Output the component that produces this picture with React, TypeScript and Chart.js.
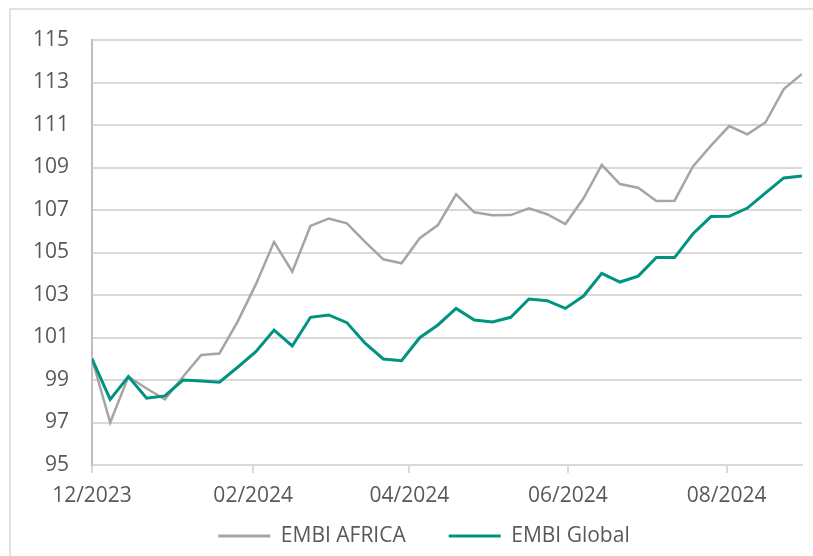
import React, { useEffect, useRef } from "react";
import { Chart, registerables } from "chart.js";

Chart.register(...registerables);

const dates = [
  "2023-12-01", "2023-12-08", "2023-12-15", "2023-12-22", "2023-12-29",
  "2024-01-05", "2024-01-12", "2024-01-19", "2024-01-26",
  "2024-02-02", "2024-02-09", "2024-02-16", "2024-02-23",
  "2024-03-01", "2024-03-08", "2024-03-15", "2024-03-22", "2024-03-29",
  "2024-04-05", "2024-04-12", "2024-04-19", "2024-04-26",
  "2024-05-03", "2024-05-10", "2024-05-17", "2024-05-24", "2024-05-31",
  "2024-06-07", "2024-06-14", "2024-06-21", "2024-06-28",
  "2024-07-05", "2024-07-12", "2024-07-19", "2024-07-26",
  "2024-08-02", "2024-08-09", "2024-08-16", "2024-08-23", "2024-08-30",
];

const embiAfrica = [
  100, 97.0, 99.16, 98.6, 98.09, 99.15, 100.18, 100.25, 101.75, 103.5,
  105.5, 104.1, 106.25, 106.6, 106.37, 105.5, 104.68, 104.49, 105.67, 106.29,
  107.74, 106.89, 106.75, 106.76, 107.08, 106.8, 106.34, 107.55, 109.12, 108.22,
  108.05, 107.42, 107.44, 109.04, 110.03, 110.95, 110.56, 111.13, 112.69, 113.4,
];

const embiGlobal = [
  100, 98.09, 99.16, 98.14, 98.25, 99.0, 98.95, 98.9, 99.6, 100.33,
  101.35, 100.6, 101.95, 102.06, 101.7, 100.73, 99.99, 99.91, 100.99, 101.59,
  102.37, 101.82, 101.73, 101.95, 102.81, 102.73, 102.37, 102.95, 104.02, 103.61,
  103.89, 104.77, 104.76, 105.87, 106.69, 106.7, 107.09, 107.81, 108.51, 108.6,
];

const tickDates = ["2023-12-01", "2024-02-01", "2024-04-01", "2024-06-01", "2024-08-01"];
const tickLabels = ["12/2023", "02/2024", "04/2024", "06/2024", "08/2024"];

const seriesNames = ["EMBI AFRICA", "EMBI Global"];

const DAY = 86400000;
const t0 = Date.parse(dates[0] + "T00:00:00Z");
const toDay = (d: string) => Math.round((Date.parse(d + "T00:00:00Z") - t0) / DAY);

const GRAY = "#A5A5A5";
const TEAL = "#00937F";
const GRID = "#D9D9D9";
const TEXT = "#595959";

const frame = {
  id: "frame",
  beforeDraw(chart: any) {
    const ctx = chart.ctx;
    ctx.save();
    ctx.fillStyle = "#FFFFFF";
    ctx.fillRect(0, 0, chart.width, chart.height);
    ctx.strokeStyle = GRID;
    ctx.lineWidth = 1.5;
    ctx.beginPath();
    ctx.moveTo(10, chart.height);
    ctx.lineTo(10, 9);
    ctx.lineTo(chart.width, 9);
    ctx.stroke();
    ctx.restore();
  },
};

// place the legend at the reference position after layout
const legendNudge = {
  id: "legendNudge",
  afterLayout(chart: any) {
    const l = chart.legend;
    if (!l) return;
    const dx = 23;
    const dy = -22.5;
    l.left += dx;
    l.right += dx;
    l.top += dy;
    l.bottom = chart.height;
    l.height = l.bottom - l.top;
  },
};

export default function App() {
  const ref = useRef<HTMLCanvasElement | null>(null);

  useEffect(() => {
    if (!ref.current) return;
    const fontFamily = "'Open Sans', sans-serif";
    const chart = new Chart(ref.current, {
      type: "line",
      data: {
        datasets: [
          {
            label: seriesNames[0],
            data: dates.map((d, i) => ({ x: toDay(d), y: embiAfrica[i] })),
            borderColor: GRAY,
            backgroundColor: GRAY,
            borderWidth: 2.5,
            pointRadius: 0,
            tension: 0,
            order: 1,
          },
          {
            label: seriesNames[1],
            data: dates.map((d, i) => ({ x: toDay(d), y: embiGlobal[i] })),
            borderColor: TEAL,
            backgroundColor: TEAL,
            borderWidth: 3,
            pointRadius: 0,
            tension: 0,
            order: 0,
          },
        ],
      },
      options: {
        animation: false,
        responsive: false,
        layout: { padding: { left: 0, right: 11, top: 40, bottom: 0 } },
        font: { family: fontFamily, size: 21 },
        scales: {
          x: {
            type: "linear",
            min: 0,
            max: toDay(dates[dates.length - 1]),
            afterBuildTicks: (scale: any) => {
              scale.ticks = tickDates.map((d) => ({ value: toDay(d) }));
            },
            afterFit: (scale: any) => {
              scale.height = 40;
            },
            grid: {
              display: true,
              drawOnChartArea: false,
              drawTicks: true,
              tickLength: 8,
              color: GRID,
              lineWidth: 2,
            },
            border: { display: true, color: GRID, width: 2 },
            ticks: {
              autoSkip: false,
              maxRotation: 0,
              padding: 10,
              color: TEXT,
              font: { family: fontFamily, size: 21 },
              callback: (_v: any, i: number) => tickLabels[i],
            },
          },
          y: {
            min: 95,
            max: 115,
            afterFit: (scale: any) => {
              scale.width = 92;
            },
            ticks: {
              stepSize: 2,
              padding: 23,
              color: TEXT,
              font: { family: fontFamily, size: 21 },
            },
            grid: { color: GRID, lineWidth: 2, drawTicks: false },
            border: { display: true, color: "#BFBFBF", width: 2 },
          },
        },
        plugins: {
          legend: {
            position: "bottom",
            maxHeight: 51,
            labels: {
              boxWidth: 52,
              boxHeight: 3,
              padding: 43,
              color: TEXT,
              font: { family: fontFamily, size: 21 },
              sort: (a: any, b: any) => a.datasetIndex - b.datasetIndex,
              generateLabels: (c: any) =>
                Chart.defaults.plugins.legend.labels.generateLabels(c).map((l: any) => ({
                  ...l,
                  fillStyle: l.strokeStyle,
                  lineWidth: 0,
                })),
            },
          },
          tooltip: { enabled: false },
        },
      },
      plugins: [frame, legendNudge],
    } as any);
    return () => chart.destroy();
  }, []);

  return (
    <div style={{ position: "absolute", left: 0, top: 0, width: 813, height: 556 }}>
      <canvas ref={ref} width={813} height={556} style={{ display: "block" }} />
    </div>
  );
}
